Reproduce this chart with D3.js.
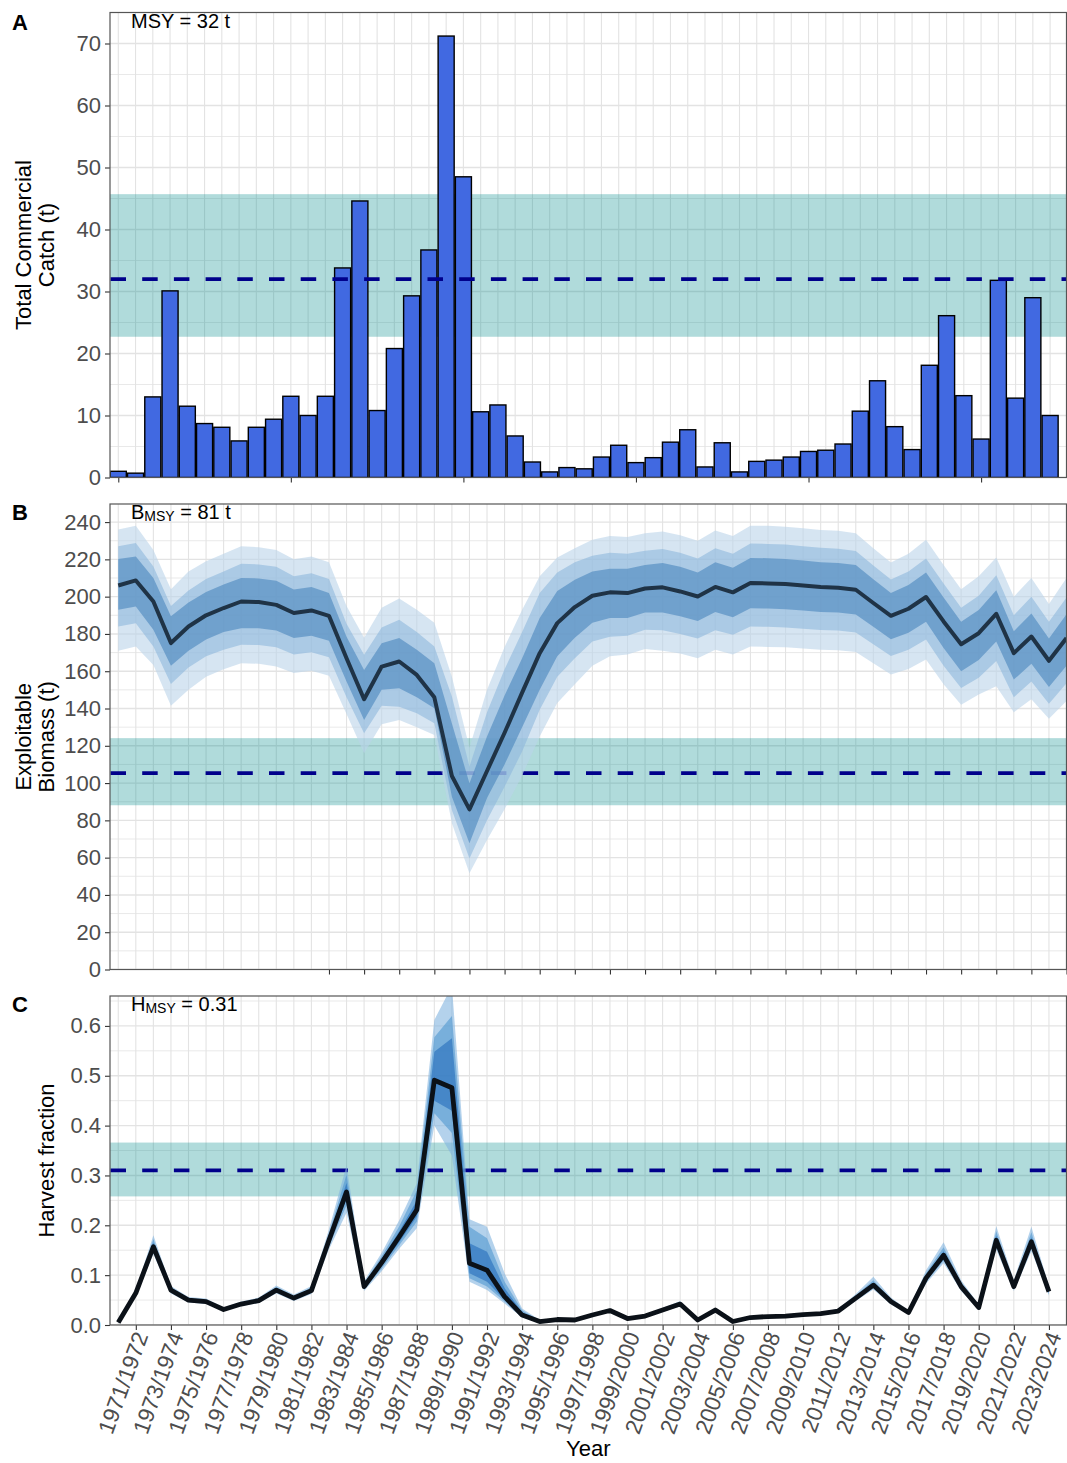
<!DOCTYPE html>
<html>
<head>
<meta charset="utf-8">
<script src="https://cdn.jsdelivr.net/npm/d3@7"></script>
<style>
  body { margin: 0; background: #fff; }
  svg { display: block; }
</style>
</head>
<body>
<svg id="chart" width="1067" height="1463"></svg>
<script>
// ---------------- Data ----------------
// Fishing seasons (start year); labels read "YYYY/YYYY+1"
const seasonStarts = d3.range(1970, 2025);
const seasonLabels = seasonStarts.map(y => `${y}/${y + 1}`);

// A: total commercial catch (t), one bar per season
const catchTonnes = [1.0, 0.7, 13.0, 30.1, 11.5, 8.7, 8.1, 5.9, 8.1, 9.4,
  13.1, 10.0, 13.1, 33.8, 44.6, 10.8, 20.8, 29.3, 36.7, 71.2,
  48.5, 10.6, 11.7, 6.7, 2.5, 0.9, 1.6, 1.4, 3.3, 5.2,
  2.4, 3.2, 5.7, 7.7, 1.7, 5.6, 0.9, 2.6, 2.8, 3.3,
  4.2, 4.4, 5.4, 10.7, 15.6, 8.2, 4.5, 18.1, 26.1, 13.2,
  6.2, 31.8, 12.8, 29.0, 10.0];
const catchTickIdx = [0, 10, 20, 30, 40, 50];
const msyCatch = 32;
const msyCatchBand = [22.7, 45.7];

// B: exploitable biomass (t), median and credible intervals
const biomassMed = [206, 208.7, 197.4, 175.1, 184, 190, 193.9, 197.4, 197.1, 195.6,
  191.2, 192.6, 189.7, 167, 145, 162.5, 165.2, 158, 146, 103.8,
  85.9, 106.5, 127, 148.5, 169.7, 185.8, 194.4, 200.5, 202.3, 201.9,
  204.4, 205, 202.8, 200.1, 205.2, 202.3, 207.3, 207.1, 206.8, 206,
  205.2, 204.8, 203.7, 196.6, 189.7, 193.5, 199.8, 186.7, 174.5, 180.4,
  190.8, 169.7, 178.6, 165.6, 177.8];
const biomassHi95 = [236, 238, 225, 204, 213.5, 219, 223, 227, 226.5, 225,
  220, 221.5, 218.5, 195, 178, 194, 199, 193, 186, 157,
  119, 150, 173, 193, 211, 221, 226, 230.5, 232.5, 232,
  234, 235, 233, 230, 235.5, 232.5, 238, 238, 237.5, 236.7,
  235.8, 235.3, 234, 226, 218.3, 223, 230.5, 217, 204, 211,
  221, 200, 210, 196, 210];
const biomassHi80 = [227, 228.8, 216.2, 195, 203.3, 209.5, 213.5, 217.7, 217.3, 216,
  211, 212.5, 209.5, 185.5, 168.8, 183.5, 187.6, 181, 173.3, 146.4,
  108.8, 138, 161, 181, 202, 213, 218.5, 222, 223.5, 223,
  224.6, 225.5, 223.5, 220.5, 226, 223, 228.5, 228.3, 228, 227,
  226.2, 225.7, 224.5, 216.7, 209.2, 213.5, 220.5, 207, 194, 200.5,
  211.5, 190, 200, 186.5, 199.5];
const biomassHi50 = [220.2, 221.6, 210, 189.5, 196.9, 202.5, 206.5, 210, 209.8, 208.5,
  203.8, 205.2, 202, 178.5, 160.7, 175, 177.8, 171.5, 164.3, 132,
  99.9, 125, 147, 167, 188.5, 203, 209, 213.5, 215, 215,
  217, 218, 216, 213, 218.5, 215.5, 220.8, 220.6, 220.2, 219.4,
  218.5, 218.1, 217, 209.4, 202, 206.3, 213, 199.5, 186.5, 192.8,
  203.5, 181.5, 191, 177.5, 190.5];
const biomassLo50 = [193, 194.7, 182.2, 163, 171, 177, 181, 183, 183, 181.8,
  177.8, 179, 176.3, 154.5, 133.9, 150, 150.9, 146, 140.2, 92.7,
  67.7, 92, 110, 130, 150, 168, 178, 186, 188.5, 188.5,
  191.5, 191.5, 189.5, 187, 191.8, 189, 193.8, 193.6, 193.3, 192.6,
  191.8, 191.5, 190.4, 183.8, 177.2, 180.7, 186.5, 172.5, 160, 166,
  176, 155.5, 164, 151.5, 163];
const biomassLo80 = [184, 185.8, 173.3, 153.2, 162, 168, 171.5, 174.2, 174, 172.8,
  169, 170.2, 167.5, 146, 126.7, 141.5, 141, 137.5, 132.1, 85.5,
  59.6, 80, 98, 117, 139.3, 157, 167, 176, 178.5, 179,
  182.2, 182, 180, 177.5, 182, 179.5, 184, 183.8, 183.5, 182.8,
  182.1, 181.8, 180.8, 174.5, 168.2, 171.5, 177, 163, 151, 156.5,
  165.5, 146, 154.5, 142.5, 153.5];
const biomassLo95 = [171, 173.3, 163.4, 141.5, 150, 157, 161, 164.3, 164, 162.6,
  159, 160.3, 157.6, 137, 116, 131.5, 133.9, 130, 125.8, 78.4,
  51.6, 69.5, 86, 104, 125, 143, 153, 163, 168, 169,
  171.9, 171, 169.5, 167, 171.5, 169, 173.3, 173, 172.8, 172.2,
  171.5, 171.2, 170.3, 164.3, 158.3, 161.2, 166.3, 153, 142, 147.5,
  152, 138, 145, 134.5, 144];
const biomassTickIdx = d3.range(12, 55, 2);
const biomassRef = 105.3;
const biomassRefBand = [88.1, 124.1];

// C: harvest fraction, median and credible intervals
const harvestMed = [0.005, 0.064, 0.157, 0.070, 0.050, 0.047, 0.031, 0.042, 0.049, 0.070,
  0.054, 0.069, 0.170, 0.267, 0.077, 0.125, 0.177, 0.231, 0.491, 0.476,
  0.124, 0.110, 0.057, 0.020, 0.007, 0.011, 0.010, 0.020, 0.029, 0.013,
  0.018, 0.030, 0.042, 0.010, 0.030, 0.007, 0.015, 0.017, 0.018, 0.021,
  0.023, 0.028, 0.054, 0.080, 0.047, 0.025, 0.094, 0.140, 0.077, 0.035,
  0.170, 0.077, 0.167, 0.067];
const harvestHi95 = [0.006, 0.070, 0.180, 0.078, 0.056, 0.053, 0.035, 0.047, 0.055, 0.079,
  0.061, 0.078, 0.192, 0.320, 0.088, 0.145, 0.210, 0.284, 0.612, 0.680,
  0.212, 0.197, 0.104, 0.033, 0.010, 0.013, 0.012, 0.023, 0.033, 0.015,
  0.021, 0.034, 0.048, 0.012, 0.034, 0.008, 0.017, 0.019, 0.021, 0.024,
  0.026, 0.032, 0.062, 0.097, 0.055, 0.029, 0.110, 0.166, 0.090, 0.041,
  0.198, 0.090, 0.197, 0.078];
const harvestHi80 = [0.006, 0.068, 0.172, 0.075, 0.054, 0.051, 0.034, 0.045, 0.053, 0.076,
  0.058, 0.075, 0.184, 0.302, 0.084, 0.138, 0.198, 0.270, 0.577, 0.620,
  0.197, 0.174, 0.087, 0.029, 0.009, 0.012, 0.011, 0.022, 0.032, 0.014,
  0.020, 0.033, 0.046, 0.011, 0.033, 0.008, 0.016, 0.018, 0.020, 0.023,
  0.025, 0.031, 0.059, 0.090, 0.052, 0.027, 0.104, 0.156, 0.085, 0.039,
  0.188, 0.085, 0.186, 0.074];
const harvestHi50 = [0.005, 0.066, 0.165, 0.073, 0.052, 0.049, 0.032, 0.044, 0.051, 0.073,
  0.056, 0.072, 0.177, 0.285, 0.080, 0.132, 0.188, 0.250, 0.548, 0.575,
  0.164, 0.147, 0.074, 0.025, 0.008, 0.012, 0.011, 0.021, 0.030, 0.014,
  0.019, 0.031, 0.044, 0.011, 0.031, 0.007, 0.016, 0.018, 0.019, 0.022,
  0.024, 0.029, 0.057, 0.085, 0.049, 0.026, 0.099, 0.148, 0.081, 0.037,
  0.179, 0.081, 0.176, 0.070];
const harvestLo50 = [0.005, 0.062, 0.150, 0.067, 0.048, 0.045, 0.030, 0.040, 0.047, 0.067,
  0.052, 0.066, 0.163, 0.252, 0.074, 0.118, 0.166, 0.217, 0.450, 0.430,
  0.104, 0.087, 0.050, 0.017, 0.006, 0.010, 0.009, 0.019, 0.028, 0.012,
  0.017, 0.029, 0.040, 0.009, 0.029, 0.006, 0.014, 0.016, 0.017, 0.020,
  0.022, 0.027, 0.051, 0.076, 0.045, 0.024, 0.089, 0.133, 0.073, 0.033,
  0.162, 0.073, 0.159, 0.064];
const harvestLo80 = [0.004, 0.060, 0.146, 0.065, 0.047, 0.044, 0.029, 0.039, 0.046, 0.065,
  0.050, 0.064, 0.158, 0.240, 0.071, 0.113, 0.160, 0.207, 0.425, 0.385,
  0.094, 0.077, 0.047, 0.016, 0.006, 0.010, 0.009, 0.018, 0.027, 0.012,
  0.016, 0.028, 0.039, 0.009, 0.028, 0.006, 0.014, 0.015, 0.016, 0.019,
  0.021, 0.026, 0.050, 0.074, 0.043, 0.023, 0.087, 0.129, 0.071, 0.032,
  0.157, 0.071, 0.154, 0.062];
const harvestLo95 = [0.004, 0.058, 0.142, 0.063, 0.045, 0.042, 0.028, 0.038, 0.044, 0.063,
  0.048, 0.062, 0.152, 0.225, 0.068, 0.108, 0.153, 0.194, 0.400, 0.340,
  0.087, 0.070, 0.043, 0.015, 0.005, 0.009, 0.008, 0.017, 0.026, 0.011,
  0.015, 0.027, 0.037, 0.008, 0.027, 0.005, 0.013, 0.014, 0.015, 0.018,
  0.020, 0.025, 0.048, 0.071, 0.041, 0.022, 0.083, 0.124, 0.068, 0.031,
  0.151, 0.068, 0.148, 0.059];
const harvestTickIdx = d3.range(1, 54, 2);
const hMsy = 0.31;
const hMsyBand = [0.258, 0.366];

// ---------------- Layout & styles ----------------
const FONT = '"Liberation Sans", Arial, Helvetica, sans-serif';
const svg = d3.select("#chart");
const left = 110, right = 1066.5;
const GRID = "#e3e3e3";
const TEAL = "#008b8b";
const DASH = "#00008b";

const xA = d3.scaleLinear().domain([-0.48, 54.95]).range([left, right]);
const xT = d3.scaleLinear().domain([-0.47, 54]).range([left, right]);

const yA = d3.scaleLinear().domain([0, 75]).range([477.5, 12.5]);
const yB = d3.scaleLinear().domain([0, 249.7]).range([969.5, 504]);
const yC = d3.scaleLinear().domain([0, 0.66]).range([1325, 996]);

svg.append("rect").attr("width", 1067).attr("height", 1463).attr("fill", "#fff");
const defs = svg.append("defs");

function makePanel(id, y, majors, minors, vIdx, x) {
  const [bottom, top] = y.range();
  defs.append("clipPath").attr("id", "clip-" + id)
    .append("rect").attr("x", left).attr("y", top)
    .attr("width", right - left).attr("height", bottom - top);
  const g = svg.append("g");
  const body = g.append("g").attr("clip-path", `url(#clip-${id})`);
  body.append("g").selectAll("line").data(minors).join("line")
    .attr("x1", left).attr("x2", right)
    .attr("y1", d => y(d)).attr("y2", d => y(d))
    .attr("stroke", GRID).attr("stroke-width", 0.8);
  body.append("g").selectAll("line").data(majors).join("line")
    .attr("x1", left).attr("x2", right)
    .attr("y1", d => y(d)).attr("y2", d => y(d))
    .attr("stroke", GRID).attr("stroke-width", 1.4);
  body.append("g").selectAll("line").data(vIdx).join("line")
    .attr("x1", d => x(d)).attr("x2", d => x(d))
    .attr("y1", top).attr("y2", bottom)
    .attr("stroke", GRID).attr("stroke-width", 1.1);
  return { g, body, top, bottom };
}

function refBand(p, y, band) {
  p.body.append("rect")
    .attr("x", left).attr("width", right - left)
    .attr("y", y(band[1])).attr("height", y(band[0]) - y(band[1]))
    .attr("fill", TEAL).attr("fill-opacity", 0.31);
}

function refLine(p, y, v) {
  p.body.append("line")
    .attr("x1", left + 0.5).attr("x2", right)
    .attr("y1", y(v)).attr("y2", y(v))
    .attr("stroke", DASH).attr("stroke-width", 3.8)
    .attr("stroke-dasharray", "15.5,16.2");
}

function leftAxis(p, y, ticks, fmt) {
  const ax = p.g.append("g").attr("transform", `translate(${left},0)`)
    .call(d3.axisLeft(y).tickValues(ticks).tickSize(5).tickPadding(4).tickFormat(fmt));
  ax.select(".domain").remove();
  ax.selectAll("line").attr("stroke", "#333").attr("stroke-width", 1.1);
  ax.selectAll("text").attr("fill", "#4d4d4d").attr("font-size", 22)
    .attr("font-family", FONT);
}

function bottomAxis(p, x, ticks, labels) {
  const ax = p.g.append("g").attr("transform", `translate(0,${p.bottom})`)
    .call(d3.axisBottom(x).tickValues(ticks).tickSize(5)
      .tickFormat(labels ? (d => labels[d]) : () => ""));
  ax.select(".domain").remove();
  ax.selectAll("line").attr("stroke", "#333").attr("stroke-width", 1.1);
  return ax;
}

function border(p) {
  p.g.append("rect").attr("x", left).attr("y", p.top)
    .attr("width", right - left).attr("height", p.bottom - p.top)
    .attr("fill", "none").attr("stroke", "#555").attr("stroke-width", 1.2);
}

function yTitle(lines, xs, yc) {
  lines.forEach((t, i) => {
    svg.append("text")
      .attr("transform", `translate(${xs[i]},${yc}) rotate(-90)`)
      .attr("text-anchor", "middle")
      .attr("font-family", FONT).attr("font-size", 22).attr("fill", "#000")
      .text(t);
  });
}

function panelLetter(t, yBase) {
  svg.append("text").attr("x", 12).attr("y", yBase)
    .attr("font-family", FONT).attr("font-size", 22).attr("font-weight", "bold")
    .text(t);
}

function annotation(p, main, sub, rest) {
  const t = p.g.append("text").attr("x", 131).attr("y", p.top + 15)
    .attr("font-family", FONT).attr("font-size", 20).attr("fill", "#000");
  t.append("tspan").text(main);
  if (sub) {
    t.append("tspan").attr("font-size", 14).attr("dy", 1.5).text(sub);
    t.append("tspan").attr("dy", -1.5).text(rest);
  }
}

function bands(p, x, y, pairs, colors) {
  pairs.forEach(([lo, hi], k) => {
    const area = d3.area()
      .x((d, i) => x(i))
      .y0((d, i) => y(lo[i]))
      .y1((d, i) => y(hi[i]));
    p.body.append("path").datum(lo).attr("d", area)
      .attr("fill", colors[k]).attr("fill-opacity", 0.6);
  });
}

// ---------------- Panel A: catch ----------------
const pA = makePanel("a", yA, d3.range(0, 71, 10), d3.range(5, 76, 10),
  d3.range(0, catchTonnes.length), xA);
refBand(pA, yA, msyCatchBand);
const barHalf = 0.465;
pA.body.append("g").selectAll("rect").data(catchTonnes).join("rect")
  .attr("x", (d, i) => xA(i - barHalf))
  .attr("width", xA(barHalf) - xA(-barHalf))
  .attr("y", d => yA(d))
  .attr("height", d => yA(0) - yA(d))
  .attr("fill", "#4169e1").attr("stroke", "#000").attr("stroke-width", 1.4);
refLine(pA, yA, msyCatch);
leftAxis(pA, yA, d3.range(0, 71, 10), d3.format("d"));
bottomAxis(pA, xA, catchTickIdx, null);
border(pA);
annotation(pA, "MSY = 32 t");
panelLetter("A", 30);
yTitle(["Total Commercial", "Catch (t)"], [31, 54], (pA.top + pA.bottom) / 2);

// ---------------- Panel B: biomass ----------------
const pB = makePanel("b", yB, d3.range(0, 241, 20), d3.range(10, 250, 20),
  d3.range(0, biomassMed.length), xT);
refBand(pB, yB, biomassRefBand);
refLine(pB, yB, biomassRef);
bands(pB, xT, yB,
  [[biomassLo95, biomassHi95], [biomassLo80, biomassHi80], [biomassLo50, biomassHi50]],
  ["#bad3ea", "#8db7dc", "#4a86bc"]);
pB.body.append("path").datum(biomassMed)
  .attr("d", d3.line().x((d, i) => xT(i)).y(d => yB(d)))
  .attr("fill", "none").attr("stroke", "#1f3346").attr("stroke-width", 4)
  .attr("stroke-linejoin", "round");
leftAxis(pB, yB, d3.range(0, 241, 20), d3.format("d"));
bottomAxis(pB, xT, biomassTickIdx, null);
border(pB);
annotation(pB, "B", "MSY", " = 81 t");
panelLetter("B", 520);
yTitle(["Exploitable", "Biomass (t)"], [31, 54], (pB.top + pB.bottom) / 2);

// ---------------- Panel C: harvest fraction ----------------
const pC = makePanel("c", yC, d3.range(0, 0.61, 0.1), d3.range(0.05, 0.66, 0.1),
  d3.range(0, 55), xT);
refBand(pC, yC, hMsyBand);
refLine(pC, yC, hMsy);
bands(pC, xT, yC,
  [[harvestLo95, harvestHi95], [harvestLo80, harvestHi80], [harvestLo50, harvestHi50]],
  ["#82b4df", "#5098d1", "#256cbb"]);
pC.body.append("path").datum(harvestMed)
  .attr("d", d3.line().x((d, i) => xT(i)).y(d => yC(d)))
  .attr("fill", "none").attr("stroke", "#0b1118").attr("stroke-width", 4.8)
  .attr("stroke-linejoin", "round");
leftAxis(pC, yC, d3.range(0, 0.61, 0.1), d3.format(".1f"));
const axC = bottomAxis(pC, xT, harvestTickIdx, seasonLabels);
axC.selectAll("text")
  .attr("x", 0).attr("y", 0).attr("dy", "0.72em")
  .attr("transform", "translate(-3,5) rotate(-70)")
  .attr("text-anchor", "end")
  .attr("fill", "#4d4d4d").attr("font-size", 22.5).attr("font-family", FONT);
border(pC);
annotation(pC, "H", "MSY", " = 0.31");
panelLetter("C", 1012);
yTitle(["Harvest fraction"], [54], (pC.top + pC.bottom) / 2);

svg.append("text").attr("x", (left + right) / 2).attr("y", 1456)
  .attr("text-anchor", "middle").attr("font-family", FONT).attr("font-size", 22)
  .text("Year");
</script>
</body>
</html>
